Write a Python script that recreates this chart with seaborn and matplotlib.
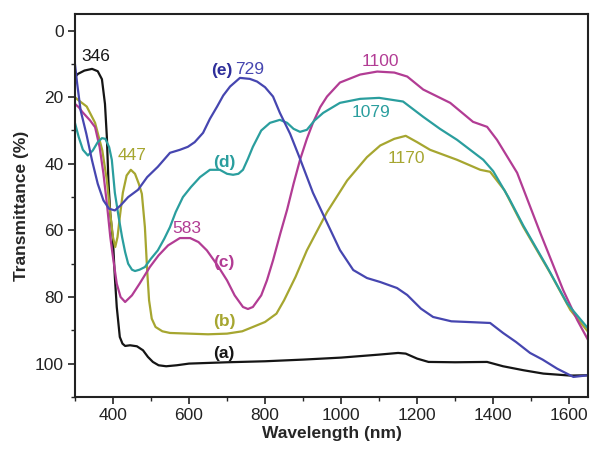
import matplotlib
matplotlib.use("Agg")
import matplotlib.pyplot as plt
from matplotlib.ticker import MultipleLocator
import seaborn as sns
import pandas as pd

# ---- data ----
a_x = [300, 308, 325, 345, 360, 371, 379, 384, 388, 393, 400, 405, 410, 418, 425, 432, 445, 463, 479, 492,
       505, 520, 540, 568, 600, 650, 700, 800, 900, 1000, 1100, 1150, 1170, 1200, 1230, 1300, 1384, 1426, 1480, 1532,
       1603, 1650]
a_y = [14, 13, 12, 11.5, 12.2, 14.6, 22, 32, 45, 55, 63, 74, 83, 92, 94, 94.7, 94.5, 94.8, 96, 98,
       99.5, 100.5, 100.8, 100.5, 100, 99.8, 99.6, 99.3, 98.8, 98.2, 97.3, 96.8, 97, 98.5, 99.5, 99.6, 99.5, 100.8, 102, 103,
       103.6, 103.5]

b_x = [300, 308, 331, 353, 372, 384, 393, 400, 406, 412, 418, 426, 436, 447, 458, 468, 476, 484, 490, 495,
       502, 512, 530, 550, 600, 650, 700, 740, 768, 800, 830, 850, 880, 910, 963, 1016, 1068, 1103, 1140, 1170,
       1200, 1234, 1305, 1366, 1392, 1430, 1479, 1550, 1603, 1650]
b_y = [20, 20.8, 22.8, 27.7, 36, 45, 55, 62, 65, 62, 56, 48.7, 43.5, 41.8, 43, 46, 49, 59, 72, 81,
       86.5, 89, 90.3, 90.8, 91, 91.2, 91, 90.3, 89, 87.5, 85, 81, 74, 66, 54.5, 45, 38, 34.5, 32.5, 31.6,
       33.5, 35.8, 38.8, 41.8, 42.4, 48, 58.9, 72.8, 83.9, 90.5]

c_x = [300, 310, 320, 340, 353, 365, 375, 385, 393, 400, 410, 420, 432, 450, 470, 497, 520, 545, 576, 603,
       625, 647, 675, 700, 720, 742, 755, 768, 790, 805, 821, 840, 858, 875, 892, 910, 926, 945, 963, 997,
       1050, 1095, 1140, 1174, 1216, 1287, 1347, 1384, 1410, 1463, 1524, 1584, 1621, 1650]
c_y = [22, 23, 24.5, 27, 29, 35, 43, 53, 62, 68, 76, 80, 81.5, 79.5, 76, 71, 67.5, 64.5, 62.3, 62.3,
       63.5, 66, 70.5, 75, 79.5, 83, 83.6, 83, 79.5, 75, 69, 61, 53.8, 46, 38.8, 32.5, 27.7, 23, 19.8, 15.6,
       13.2, 12.3, 12.6, 13.8, 17.7, 21.7, 27.4, 28.9, 32.8, 42.7, 60.8, 77.9, 86.9, 93]

d_x = [300, 310, 321, 334, 347, 360, 371, 380, 390, 397, 405, 415, 424, 432, 440, 450, 458, 470, 484, 500,
       518, 535, 550, 565, 584, 605, 629, 655, 681, 700, 716, 730, 742, 755, 768, 790, 813, 839, 858, 875,
       892, 910, 930, 953, 997, 1050, 1100, 1163, 1216, 1260, 1305, 1374, 1400, 1440, 1479, 1542, 1595, 1650]
d_y = [27.7, 32, 35.8, 37.5, 36, 33.5, 32.3, 32.5, 35, 38.8, 48.7, 56, 62, 66.5, 70, 71.8, 72.2, 71.8, 71, 68.5,
       66, 62.5, 59, 54.5, 50, 47, 44, 41.8, 41.8, 43, 43.3, 43, 41.8, 38.5, 34.9, 30, 27.7, 26.8, 27.7, 29.5,
       30.4, 29.8, 27, 24.7, 21.7, 20.5, 20.2, 21.3, 25.9, 29.5, 32.8, 38.8, 42.2, 50, 58.5, 71, 82, 89.5]

e_x = [300, 306, 315, 330, 345, 360, 375, 390, 405, 420, 440, 466, 490, 518, 550, 576, 597, 615, 637, 655,
       674, 690, 708, 734, 760, 779, 800, 821, 839, 866, 892, 926, 963, 997, 1032, 1068, 1103, 1147, 1174, 1210,
       1242, 1290, 1332, 1392, 1426, 1460, 1497, 1530, 1568, 1611, 1650]
e_y = [10, 16, 24, 31, 39, 46, 51, 53.5, 54, 52.5, 50, 47.8, 44, 40.9, 36.7, 35.8, 34.9, 33.5, 30.7, 26.5,
       22.8, 19.5, 16.8, 14.2, 14.5, 15.3, 17, 19.8, 24.7, 31, 38.5, 48.7, 57.7, 65.9, 71.9, 74.3, 75.5, 77.3, 79.4, 83.5,
       86, 87.3, 87.5, 87.8, 90.8, 93.5, 96.8, 98.8, 101.5, 104, 103.5]

series_names = ["a", "b", "c", "d", "e"]
series_colors = ["#151515", "#a6a630", "#b23c94", "#2a9e9e", "#4646b0"]

# label texts and where they sit
label_texts = ["346", "447", "583", "(c)", "(b)", "(a)", "(d)", "(e)", "729", "1100", "1079", "1170"]
label_x = [354, 450, 595, 692, 692, 692, 692, 686, 760, 1103, 1079, 1171]
label_y = [7.8, 37.6, 59.5, 69.5, 87.5, 97, 39.5, 12, 11.7, 9.3, 24.7, 38.3]
label_series = [0, 1, 2, 2, 1, 0, 3, 4, 4, 2, 3, 1]

x_ticks = [400, 600, 800, 1000, 1200, 1400, 1600]
y_ticks = [0, 20, 40, 60, 80, 100]

# ---- build long table ----
frames = []
for name, xs, ys in zip(series_names, [a_x, b_x, c_x, d_x, e_x], [a_y, b_y, c_y, d_y, e_y]):
    frames.append(pd.DataFrame({"wl": xs, "T": ys, "s": name}))
df = pd.concat(frames, ignore_index=True)

sns.set_style("ticks")
plt.rcParams["font.family"] = ["Liberation Sans", "DejaVu Sans"]

fig = plt.figure(figsize=(5.9, 4.5), dpi=100)
ax = fig.add_axes([0.127, 0.118, 0.870, 0.851])

sns.lineplot(data=df, x="wl", y="T", hue="s", palette=dict(zip(series_names, series_colors)),
             legend=False, linewidth=1.6, sort=False, estimator=None, ax=ax)
for ln in ax.lines:
    ln.set_solid_joinstyle("round")

ax.set_xlim(300, 1650)
ax.set_ylim(110, -5)
ax.set_xticks(x_ticks)
ax.set_yticks(y_ticks)
ax.xaxis.set_minor_locator(MultipleLocator(100))
ax.yaxis.set_minor_locator(MultipleLocator(10))
ax.tick_params(axis="both", which="major", direction="out", length=5, width=1.2,
               labelsize=12.5, colors="#222222", pad=3)
ax.tick_params(axis="both", which="minor", direction="out", length=3, width=1.0)
ax.tick_params(top=False, right=False, which="both")
for sp in ax.spines.values():
    sp.set_linewidth(1.5)
    sp.set_color("#222222")
    sp.set_visible(True)

ax.set_xlabel("Wavelength (nm)", fontsize=12.5, fontweight="bold", labelpad=2)
ax.set_ylabel("Transmittance (%)", fontsize=12.5, fontweight="bold", labelpad=4)

for t, x, y, si in zip(label_texts, label_x, label_y, label_series):
    bold = t.startswith("(")
    col = "#2e2e9a" if t == "(e)" else series_colors[si]
    ax.text(x, y, t, ha="center", va="center", fontsize=12.5, color=col,
            fontweight="bold" if bold else "normal")

fig.savefig("out.png", dpi=100)
